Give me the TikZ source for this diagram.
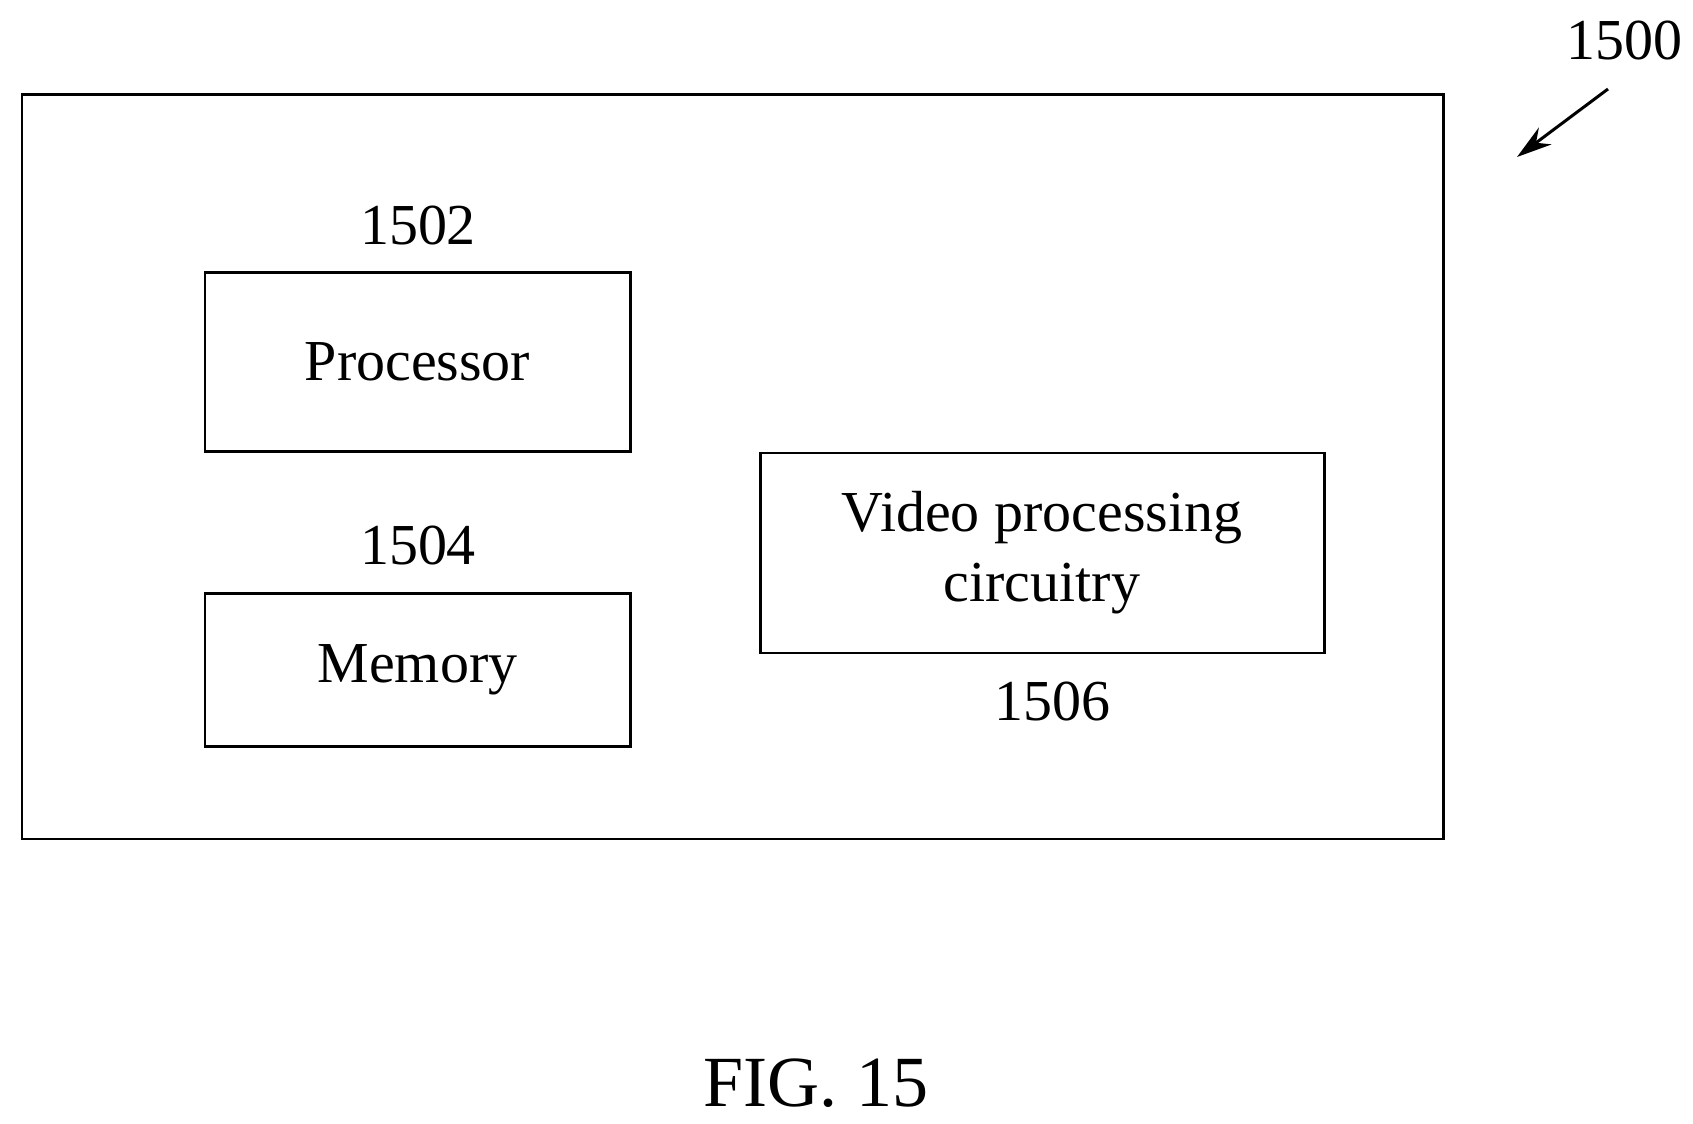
\documentclass[tikz,border=0pt]{standalone}
\usepackage{fontspec}
\setmainfont{Liberation Serif}
\usetikzlibrary{arrows.meta}
\begin{document}
\begin{tikzpicture}[x=0.02cm,y=-0.02cm,
  box/.style={draw,line width=1.7pt,inner sep=0,align=center,font=\fontsize{33}{40}\selectfont},
  lbl/.style={font=\fontsize{33}{40}\selectfont,inner sep=0}]
\useasboundingbox (0,0) rectangle (1693,1124);
\node[box,minimum width=1421*0.02cm,minimum height=744*0.02cm] (outer) at (732.5,467) {};
\node[box,minimum width=425*0.02cm,minimum height=179*0.02cm] (proc) at (417.5,362) {Processor};
\node[box,minimum width=425*0.02cm,minimum height=153*0.02cm] (mem) at (417.5,670) {Memory};
\node[box,minimum width=564*0.02cm,minimum height=200*0.02cm] (vid) at (1042,553) {Video processing\\circuitry};
\node[lbl] (l1502) at (418,226) {1502};
\node[lbl] (l1504) at (418,546) {1504};
\node[lbl] (l1506) at (1052,702) {1506};
\node[lbl] (l1500) at (1624,41) {1500};
\coordinate (a1) at (1608,89);
\coordinate (a2) at (1517,157);
\draw[line width=1.7pt,-{Stealth[length=20pt,width=12pt]}] (a1) -- (a2);
\node[font=\fontsize{41}{48}\selectfont,inner sep=0] (fig) at (816,1083) {FIG. 15};
\end{tikzpicture}
\end{document}
